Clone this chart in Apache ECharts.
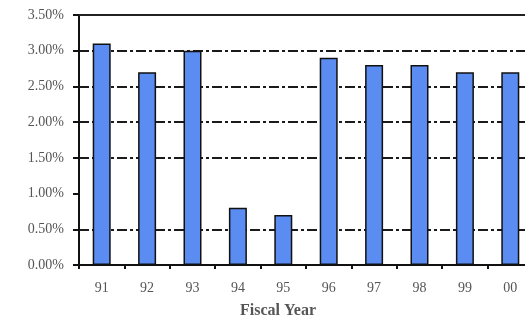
<!DOCTYPE html>
<html>
<head>
<meta charset="utf-8">
<script src="https://cdn.jsdelivr.net/npm/echarts@6/dist/echarts.min.js"></script>
<style>
  html, body { margin: 0; padding: 0; background: #fff; }
  #chart { width: 525px; height: 324px; }
</style>
</head>
<body>
<div id="chart"></div>
<script>
// Fiscal years and rate per year (percent)
const years = ['91', '92', '93', '94', '95', '96', '97', '98', '99', '00'];
const rates = [3.1, 2.7, 3.0, 0.8, 0.7, 2.9, 2.8, 2.8, 2.7, 2.7];
const yTicks = [0, 0.5, 1.0, 1.5, 2.0, 2.5, 3.0, 3.5];

// Grid lines drawn at each tick except 0, 1.00% and the top edge
const gridColors = yTicks.map(v => (v === 0 || v === 1.0 || v === 3.5) ? 'rgba(0,0,0,0)' : '#1a1a1a');

const serif = '"Liberation Serif", "DejaVu Serif", serif';
const chart = echarts.init(document.getElementById('chart'));
chart.setOption({
  animation: false,
  // plot area runs past the right edge of the canvas
  grid: { left: 79, top: 15, width: 454, height: 250, containLabel: false, outerBoundsMode: 'none' },
  xAxis: [{
    type: 'category',
    data: years,
    axisLine: { lineStyle: { color: '#111', width: 2 } },
    axisTick: { show: true, length: 4, lineStyle: { color: '#111', width: 2 } },
    axisLabel: { color: '#555', fontFamily: serif, fontSize: 14, margin: 16 }
  }, {
    type: 'category',
    data: years,
    position: 'top',
    axisLine: { lineStyle: { color: '#222', width: 2 } },
    axisTick: { show: false },
    axisLabel: { show: false }
  }],
  yAxis: {
    type: 'value',
    min: 0, max: 3.5, interval: 0.5,
    axisLine: { show: true, lineStyle: { color: '#111', width: 2 } },
    axisTick: { show: true, length: 6, lineStyle: { color: '#111', width: 2 } },
    axisLabel: {
      color: '#555', fontFamily: serif, fontSize: 14, margin: 15,
      formatter: v => v.toFixed(2) + '%'
    },
    splitLine: { show: true, lineStyle: { color: gridColors, width: 2, type: [10, 3, 3, 3] } }
  },
  graphic: [{
    type: 'text',
    left: 240, top: 303,
    style: { text: 'Fiscal Year', fill: '#555', font: 'bold 16px ' + serif }
  }],
  series: [{
    type: 'bar',
    data: rates,
    barWidth: 18,
    itemStyle: { color: '#5b8cf2', borderColor: '#111', borderWidth: 1.5 }
  }]
});
</script>
</body>
</html>
